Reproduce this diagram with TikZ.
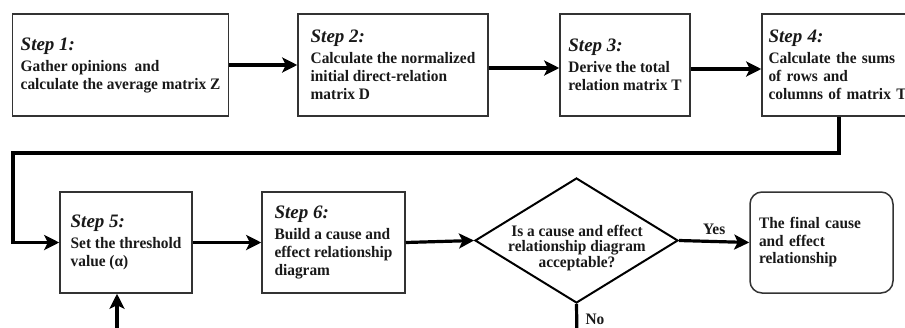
\documentclass[tikz,border=0pt]{standalone}
\usepackage{fontspec}
\setmainfont{Liberation Serif}[FakeStretch=0.96]
\newfontfamily\stepfamily{Liberation Serif}
\usetikzlibrary{arrows.meta,shapes.geometric}
\newcommand{\stp}[1]{{\stepfamily\fontsize{19}{20}\selectfont\bfseries\itshape Step #1:}\\[3pt]}
\tikzset{
  every node/.style={font=\fontsize{16}{18}\selectfont\bfseries, text=black!90},
  box/.style={draw=black!80, line width=1.5pt, align=left, inner xsep=8pt, inner ysep=2pt, minimum height=102pt},
  flow/.style={line width=3.2pt, -{Stealth[length=15pt,width=15pt,inset=3.5pt]}},
  plain/.style={line width=3.2pt},
}
\begin{document}
\begin{tikzpicture}[x=1pt,y=-1pt]
\useasboundingbox (0,0) rectangle (905,327);
\clip (0,0) rectangle (905,327);
\fill[white] (0,0) rectangle (905,327);
% row 1
\node[box, minimum width=215pt] (s1) at (120.5,65) {\stp{1}Gather opinions\ \ and\\calculate the average matrix Z};
\node[box, minimum width=190pt] (s2) at (393,65) {\stp{2}Calculate the normalized\\initial direct-relation\\matrix D};
\node[box, minimum width=130pt] (s3) at (625,65) {\stp{3}Derive the total\\relation matrix T};
\node[box, text width=145pt, inner xsep=6.5pt] (s4) at (841,65) {\stp{4}Calculate the sums\\of rows and\\columns of matrix T};
% row 2
\node[box, minimum width=132pt, minimum height=101pt] (s5) at (126,242.5) {\stp{5}Set the threshold\\value (α)};
\node[box, minimum width=143pt, minimum height=101pt] (s6) at (333.5,242.5) {\stp{6}Build a cause and\\effect relationship\\diagram};
\node[draw=black, line width=2pt, diamond, minimum width=203pt, minimum height=125pt, inner sep=0pt] (dia) at (576.5,240.5) {};
\node[align=center, font=\fontsize{16}{15.7}\selectfont\bfseries] (diat) at (577,248) {Is a cause and effect\\relationship diagram\\acceptable?};
\node[box, text width=125pt, inner xsep=9pt, minimum height=101pt, rounded corners=12pt, font=\fontsize{16}{17.5}\selectfont\bfseries] (fin) at (821.5,242.5) {The final cause\\and effect\\relationship};
% connectors
\draw[flow] (s1.east) -- (s2.west);
\draw[flow] ([yshift=-3pt]s2.east) -- ([yshift=-3pt]s3.west);
\draw[flow] ([yshift=-4pt]s3.east) -- ([yshift=-4pt]s4.west);
\coordinate (lp) at (13,153);
\draw[flow] ([xshift=-2pt]s4.south) |- (lp) |- (s5.west);
\draw[flow] (s5.east) -- (s6.west);
\draw[flow] (s6.east) -- (dia.west);
\draw[flow] (dia.east) -- (fin.west) node[midway, above=2pt] (yes) {Yes};
\coordinate (nob) at (577,340);
\draw[plain] (dia.south) -- (nob);
\node[anchor=west] (no) at (582,319) {No};
\coordinate (upb) at (117,340);
\draw[flow] (upb) -- (upb |- s5.south);
\end{tikzpicture}
\end{document}
